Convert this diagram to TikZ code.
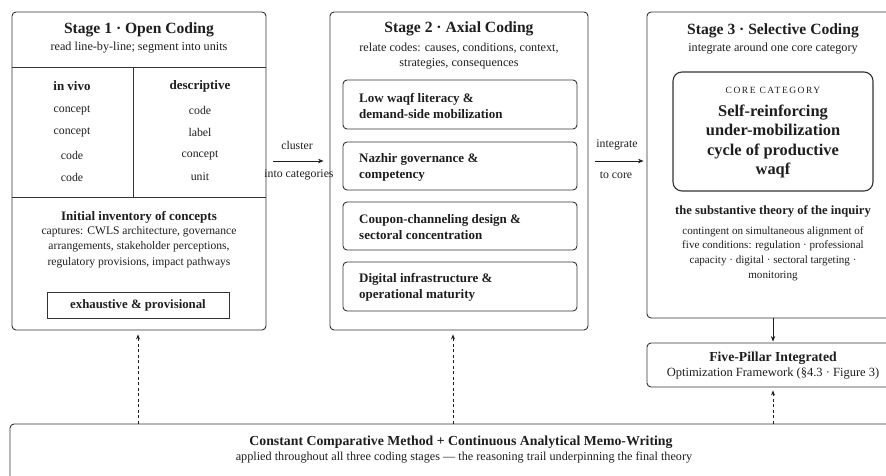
\documentclass[tikz,border=0pt]{standalone}
\usepackage{fontspec}
\setmainfont{Liberation Serif}
\usetikzlibrary{arrows.meta,calc}

\definecolor{ink}{HTML}{1E1E1E}
\definecolor{rule}{HTML}{333333}

\tikzset{
  frame/.style={draw=rule, line width=0.9pt, rounded corners=4pt, inner sep=0pt},
  plainbox/.style={draw=rule, line width=0.9pt, inner sep=0pt},
  corebox/.style={draw=rule, line width=1.1pt, rounded corners=9pt, inner sep=0pt},
  divider/.style={draw=rule, line width=0.9pt},
  txt/.style={text=ink, inner sep=0pt, align=center},
  ttl/.style={txt, font=\fontsize{15.6}{18}\selectfont\bfseries},
  sub/.style={txt, font=\fontsize{12.2}{15}\selectfont},
  hdr/.style={txt, font=\fontsize{13}{15}\selectfont\bfseries},
  item/.style={txt, font=\fontsize{11.8}{14}\selectfont},
  cat/.style={txt, align=left, font=\fontsize{13}{16}\selectfont\bfseries},
  core/.style={txt, font=\fontsize{16.4}{19.3}\selectfont\bfseries},
  lbl/.style={txt, font=\fontsize{11.8}{14}\selectfont},
  arr/.style={draw=ink, line width=0.9pt, -{Stealth[length=5.5pt,width=4.5pt]}},
  darr/.style={draw=ink, line width=0.8pt, dash pattern=on 3pt off 2.5pt,
               -{Stealth[length=5pt,width=4pt]}}
}

\begin{document}
\begin{tikzpicture}[x=1pt, y=-1pt]
\useasboundingbox (0,0) rectangle (886,476);

% ---------- Stage 1 : open coding ----------
\node[frame, minimum width=254pt, minimum height=318pt] (s1) at (139,171) {};
\draw[divider] (s1.west |- 0,67) -- (s1.east |- 0,67);
\draw[divider] (s1.west |- 0,197) -- (s1.east |- 0,197);
\draw[divider] (133,67) -- (133,197);
\node[ttl] (s1t) at (139,30) {Stage 1 · Open Coding};
\node[sub] (s1s) at (139,48) {read line-by-line; segment into units};

\node[hdr] (viv) at (72,86) {in vivo};
\node[hdr] (des) at (200,86) {descriptive};
\node[item] (v1) at (72,110) {concept};
\node[item] (v2) at (72,132) {concept};
\node[item] (v3) at (72,155) {code};
\node[item] (v4) at (72,177) {code};
\node[item] (d1) at (200,110) {code};
\node[item] (d2) at (200,132) {label};
\node[item] (d3) at (200,155) {concept};
\node[item] (d4) at (200,177) {unit};

\node[hdr] (inv) at (139,217) {Initial inventory of concepts};
\node[sub, font=\fontsize{11.6}{15.5}\selectfont] (invs) at (139,247) {captures: CWLS architecture, governance\\
  arrangements, stakeholder perceptions,\\ regulatory provisions, impact pathways};
\node[plainbox, minimum width=182pt, minimum height=26pt] (exh) at (138,305) {};
\node[hdr, font=\fontsize{12.8}{15}\selectfont\bfseries] at (exh) {exhaustive \& provisional};

% ---------- Stage 2 : axial coding ----------
\node[frame, minimum width=258pt, minimum height=318pt] (s2) at (459,171) {};
\node[ttl] (s2t) at (459,29) {Stage 2 · Axial Coding};
\node[sub] (s2s) at (459,56) {relate codes: causes, conditions, context,\\ strategies, consequences};

\node[frame, minimum width=234pt, minimum height=49pt] (c1) at (460,104.5) {};
\node[frame, minimum width=234pt, minimum height=48pt] (c2) at (460,166) {};
\node[frame, minimum width=234pt, minimum height=48pt] (c3) at (460,226) {};
\node[frame, minimum width=234pt, minimum height=49pt] (c4) at (460,286.5) {};
\node[cat, anchor=west] at (359,106) {Low waqf literacy \&\\ demand-side mobilization};
\node[cat, anchor=west] at (359,167) {Nazhir governance \&\\ competency};
\node[cat, anchor=west] at (359,227) {Coupon-channeling design \&\\ sectoral concentration};
\node[cat, anchor=west] at (359,287) {Digital infrastructure \&\\ operational maturity};

% ---------- Stage 3 : selective coding ----------
\node[frame, minimum width=252pt, minimum height=306pt] (s3) at (773,165) {};
\node[ttl] (s3t) at (773,31) {Stage 3 · Selective Coding};
\node[sub] (s3s) at (773,49) {integrate around one core category};

\node[corebox, minimum width=200pt, minimum height=119pt] (cc) at (773,131.5) {};
\node[txt, font=\fontsize{9.5}{11}\selectfont\addfontfeatures{LetterSpace=16}] at (773,90) {CORE CATEGORY};
\node[core] at (773,141.5) {Self-reinforcing\\ under-mobilization\\ cycle of productive\\ waqf};

\node[hdr, font=\fontsize{12.6}{15}\selectfont\bfseries] (theory) at (773,211) {the substantive theory of the inquiry};
\node[item, font=\fontsize{11.1}{14.7}\selectfont] (cond) at (773,253.5) {contingent on simultaneous alignment of\\
  five conditions: regulation · professional\\ capacity · digital · sectoral targeting ·\\ monitoring};

% ---------- framework ----------
\node[frame, minimum width=252pt, minimum height=44pt] (fp) at (773,365) {};
\node[hdr, font=\fontsize{13.7}{15}\selectfont\bfseries] at (773,358) {Five-Pillar Integrated};
\node[sub, font=\fontsize{12.5}{14}\selectfont] at (773,374) {Optimization Framework (§4.3 · Figure 3)};

% ---------- constant comparison ----------
\node[frame, minimum width=902pt, minimum height=76pt] (cm) at (461,462) {};
\node[txt, font=\fontsize{13.8}{15}\selectfont\bfseries] at (461,442)
  {Constant Comparative Method + Continuous Analytical Memo-Writing};
\node[txt, font=\fontsize{12.2}{14}\selectfont] at (464,458)
  {applied throughout all three coding stages — the reasoning trail underpinning the final theory};

% ---------- connectors ----------
\draw[arr, shorten <=7pt, shorten >=6pt] ([yshift=10pt]s1.east) -- ([yshift=10pt]s2.west);
\node[lbl] at (297,145) {cluster};
\node[lbl] at (299,175) {into categories};

\draw[arr, shorten <=7pt, shorten >=3pt] ([yshift=10pt]s2.east) -- ([yshift=10pt]s2.east -| s3.west);
\node[lbl] at (617,145) {integrate};
\node[lbl] at (616,175) {to core};

\draw[arr, shorten >=1pt] (s3.south) -- (fp.north);

\draw[darr, shorten >=4pt] ([xshift=-1pt]s1.south |- cm.north) -- ([xshift=-1pt]s1.south);
\draw[darr, shorten >=4pt] ([xshift=-6pt]s2.south |- cm.north) -- ([xshift=-6pt]s2.south);
\draw[darr, shorten >=3pt] (fp.south |- cm.north) -- (fp.south);
\end{tikzpicture}
\end{document}
